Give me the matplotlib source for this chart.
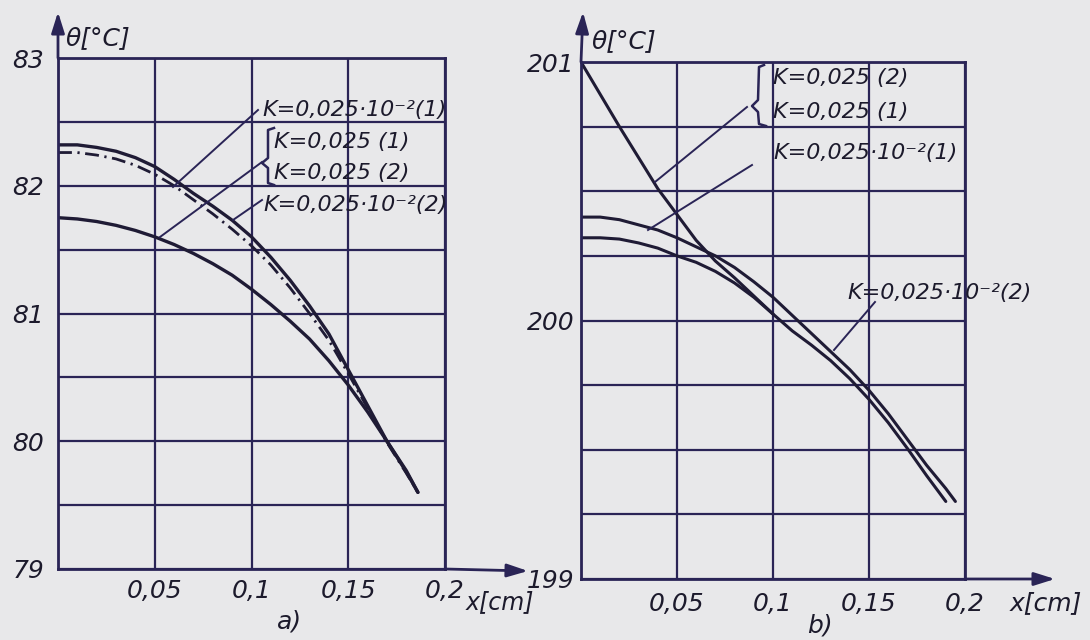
import matplotlib
matplotlib.use('Agg')
import matplotlib.pyplot as plt
from matplotlib.lines import Line2D
from matplotlib.patches import FancyArrowPatch

# ====== data ======
# panel a) theta [C] vs x [cm]
xa = [0, 0.01, 0.02, 0.03, 0.04, 0.05, 0.06, 0.07, 0.08, 0.09, 0.10,
      0.11, 0.12, 0.13, 0.14, 0.15, 0.16, 0.17, 0.18, 0.186]
a_k2_1 = [82.32, 82.32, 82.30, 82.27, 82.22, 82.15, 82.05, 81.94, 81.84, 81.73, 81.60,
          81.44, 81.26, 81.06, 80.84, 80.56, 80.28, 80.00, 79.76, 79.60]
a_k2_2 = [82.26, 82.26, 82.24, 82.21, 82.16, 82.09, 82.00, 81.89, 81.78, 81.66, 81.53,
          81.38, 81.20, 81.00, 80.79, 80.53, 80.26, 79.99, 79.75, 79.60]
a_k = [81.75, 81.74, 81.72, 81.69, 81.65, 81.60, 81.54, 81.47, 81.39, 81.30, 81.19,
       81.07, 80.94, 80.80, 80.63, 80.44, 80.23, 80.00, 79.77, 79.60]

# panel b)
xb_up = [0, 0.01, 0.02, 0.03, 0.04, 0.05, 0.06, 0.07, 0.08, 0.09, 0.10,
         0.11, 0.12, 0.13, 0.14, 0.15, 0.16, 0.17, 0.18, 0.19, 0.195]
b_k2_1 = [200.40, 200.40, 200.39, 200.37, 200.35, 200.32, 200.285, 200.25, 200.205, 200.15, 200.09,
          200.02, 199.95, 199.88, 199.81, 199.73, 199.64, 199.54, 199.44, 199.35, 199.30]
xb_lo = [0, 0.01, 0.02, 0.03, 0.04, 0.05, 0.06, 0.07, 0.08, 0.09, 0.10,
         0.11, 0.12, 0.13, 0.14, 0.15, 0.16, 0.17, 0.18, 0.19]
b_k2_2 = [200.32, 200.32, 200.315, 200.30, 200.28, 200.25, 200.225, 200.19, 200.145, 200.09, 200.025,
          199.96, 199.905, 199.845, 199.775, 199.695, 199.605, 199.505, 199.40, 199.30]
xb_k = [0, 0.01, 0.02, 0.03, 0.04, 0.05, 0.06, 0.07, 0.08, 0.09, 0.10]
b_k = [201.0, 200.875, 200.75, 200.63, 200.51, 200.41, 200.31, 200.23, 200.165, 200.095, 200.025]

x_ticks = [0, 0.05, 0.1, 0.15, 0.2]
x_labels = ['', '0,05', '0,1', '0,15', '0,2']
a_yticks = [79, 79.5, 80, 80.5, 81, 81.5, 82, 82.5, 83]
a_ylabels = ['79', '', '80', '', '81', '', '82', '', '83']
b_yticks = [199, 199.25, 199.5, 199.75, 200, 200.25, 200.5, 200.75, 201]
b_ylabels = ['199', '', '', '', '200', '', '', '', '201']

lab_k2_1 = 'K=0,025·10⁻²(1)'
lab_k2_2 = 'K=0,025·10⁻²(2)'
lab_k_1 = 'K=0,025 (1)'
lab_k_2 = 'K=0,025 (2)'

# ====== style ======
BG = '#e8e8ea'
GRID = '#2a2456'
CURVE = '#1f1b35'
TXT = '#1c1a2c'
W, H = 1090, 640

plt.rcParams['font.family'] = ['DejaVu Sans']

fig = plt.figure(figsize=(W / 100, H / 100), dpi=100, facecolor=BG)


def fx(px):
    return px / W


def fy(py):
    return 1 - py / H


def setup(ax, ylim, yticks, ylabels, xpad, ypad):
    ax.set_facecolor(BG)
    ax.set_xlim(0, 0.2)
    ax.set_ylim(*ylim)
    ax.set_xticks(x_ticks)
    ax.set_xticklabels(x_labels)
    ax.set_yticks(yticks)
    ax.set_yticklabels(ylabels)
    ax.tick_params(axis='x', length=0, pad=xpad, labelsize=18, labelcolor=TXT)
    ax.tick_params(axis='y', length=0, pad=ypad, labelsize=18, labelcolor=TXT)
    for t in ax.get_xticklabels() + ax.get_yticklabels():
        t.set_fontstyle('italic')
    for s in ax.spines.values():
        s.set_color(GRID)
        s.set_linewidth(2)
    ax.grid(True, color=GRID, lw=1.6)


ax_a = fig.add_axes([fx(58), fy(569), 387 / W, 511 / H])
setup(ax_a, (79, 83), a_yticks, a_ylabels, 7, 10)
ax_a.plot(xa, a_k2_1, color=CURVE, lw=2.4, solid_capstyle='round')
ax_a.plot(xa, a_k2_2, color=CURVE, lw=2.0, linestyle=(0, (5, 2, 0.8, 2)))
ax_a.plot(xa, a_k, color=CURVE, lw=2.4, solid_capstyle='round')

ax_b = fig.add_axes([fx(581), fy(579), 384 / W, 517 / H])
setup(ax_b, (199, 201), b_yticks, b_ylabels, 9, 5)
ax_b.plot(xb_up, b_k2_1, color=CURVE, lw=2.2, solid_capstyle='round')
ax_b.plot(xb_lo, b_k2_2, color=CURVE, lw=2.2, solid_capstyle='round')
ax_b.plot(xb_k, b_k, color=CURVE, lw=2.2, solid_capstyle='round')


# ====== axis arrows ======
def arrow(p0, p1):
    fig.add_artist(FancyArrowPatch((fx(p0[0]), fy(p0[1])), (fx(p1[0]), fy(p1[1])),
                                   transform=fig.transFigure, color=GRID, lw=2,
                                   arrowstyle='-|>,head_length=0.7,head_width=0.22',
                                   mutation_scale=18, shrinkA=0, shrinkB=0))


arrow((58, 58), (58, 12))
arrow((445, 569), (528, 571))
arrow((581, 62), (583, 12))
arrow((965, 579), (1055, 579))


# ====== leaders and braces ======
def seg(xs, ys, lw=1.4):
    fig.add_artist(Line2D([fx(v) for v in xs], [fy(v) for v in ys],
                          transform=fig.transFigure, color=GRID, lw=lw))


seg([258, 173], [110, 187])
seg([262, 160], [162, 237])
seg([262, 233], [200, 220])
seg([274, 268, 268, 262, 268, 268, 274], [128, 130, 158, 163, 168, 183, 185], lw=1.8)

seg([747, 655], [107, 182])
seg([752, 648], [165, 230])
seg([875, 834], [302, 350])
seg([764, 759, 758, 752, 758, 759, 766], [65, 67, 100, 106, 112, 124, 126], lw=1.8)


# ====== text ======
def txt(px, py, s, size=16, ha='left'):
    fig.text(fx(px), fy(py), s, ha=ha, va='center', fontsize=size,
             style='italic', color=TXT)


txt(262, 110, lab_k2_1)
txt(274, 142, lab_k_1)
txt(274, 173, lab_k_2)
txt(263, 205, lab_k2_2)

txt(773, 78, lab_k_2)
txt(773, 112, lab_k_1)
txt(773, 153, lab_k2_1)
txt(847, 293, lab_k2_2)

txt(66, 38, 'θ[°C]', size=18)
txt(592, 41, 'θ[°C]', size=18)
txt(466, 602, 'x[cm]', size=17)
txt(1010, 603, 'x[cm]', size=18)
txt(290, 622, 'a)', size=18, ha='center')
txt(820, 626, 'b)', size=18, ha='center')

fig.savefig('out.png', dpi=100, facecolor=BG)
plt.close(fig)
